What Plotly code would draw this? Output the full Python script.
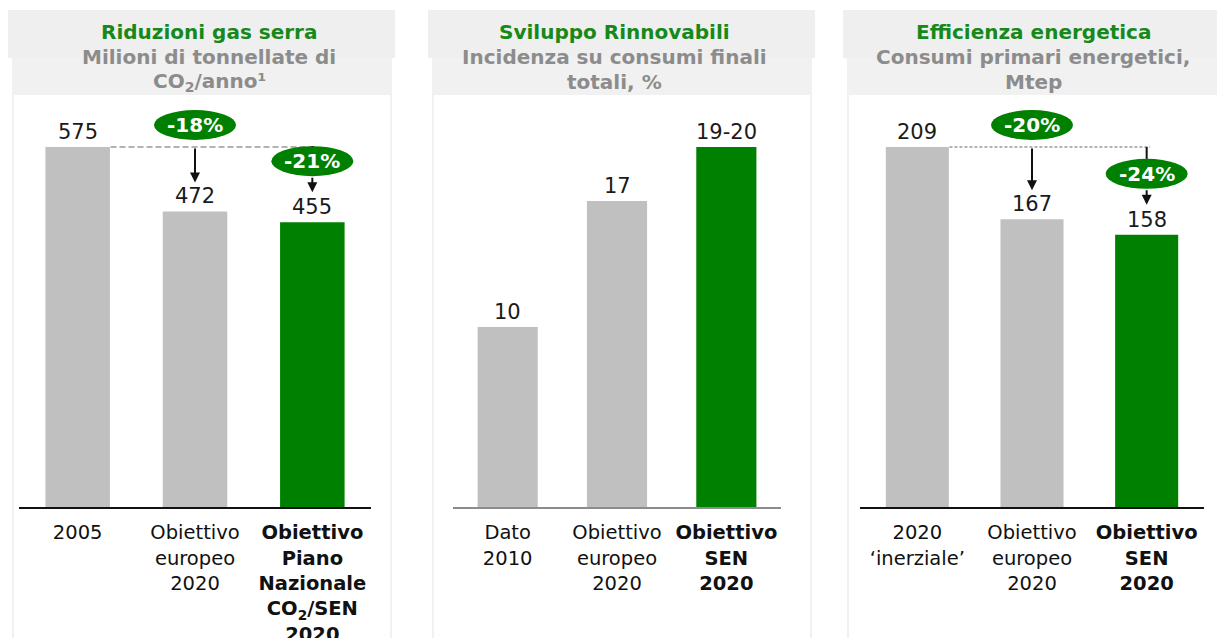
import plotly.graph_objects as go

WIDTH, HEIGHT = 1217, 638

# ---- data -----------------------------------------------------------------
co2_categories = ["2005", "Obiettivo europeo 2020", "Obiettivo Piano Nazionale CO2/SEN 2020"]
co2_ticks = [
    "2005",
    "Obiettivo<br>europeo<br>2020",
    "<b>Obiettivo<br>Piano<br>Nazionale<br>CO<sub>2</sub>/SEN<br>2020</b>",
]
co2_values = [575, 472, 455]
co2_labels = ["575", "472", "455"]
co2_badges = ["-18%", "-21%"]

ren_categories = ["Dato 2010", "Obiettivo europeo 2020", "Obiettivo SEN 2020"]
ren_ticks = ["Dato<br>2010", "Obiettivo<br>europeo<br>2020", "<b>Obiettivo<br>SEN<br>2020</b>"]
ren_values = [10, 17, 20]
ren_labels = ["10", "17", "19-20"]

eff_categories = ["2020 inerziale", "Obiettivo europeo 2020", "Obiettivo SEN 2020"]
eff_ticks = ["2020<br>‘inerziale’", "Obiettivo<br>europeo<br>2020", "<b>Obiettivo<br>SEN<br>2020</b>"]
eff_values = [209, 167, 158]
eff_labels = ["209", "167", "158"]
eff_badges = ["-20%", "-24%"]

titles = ["Riduzioni gas serra", "Sviluppo Rinnovabili", "Efficienza energetica"]
subtitles = [
    ["Milioni di tonnellate di", "CO<sub>2</sub>/anno¹"],
    ["Incidenza su consumi finali", "totali, %"],
    ["Consumi primari energetici,", "Mtep"],
]

# ---- style ----------------------------------------------------------------
FONT = "DejaVu Sans"
GREY = "#c0c0c0"
GREEN = "#008000"
TITLE_GREEN = "#15891a"
SUB_GREY = "#8c8c8c"
PLOT_TOP, PLOT_BOTTOM = 100, 507  # pixel rows of the plotting area
TITLE_ROWS = [32, 57, 82]

PANELS = [
    dict(box=(8, 395), plot=(19, 371), title_x=209, line="#111111", linewidth=2, dash="6px,3px",
         cats=co2_categories, ticks=co2_ticks, values=co2_values, labels=co2_labels, badges=co2_badges),
    dict(box=(428, 815), plot=(453, 781), title_x=614, line="#8c8c8c", linewidth=1.5, dash=None,
         cats=ren_categories, ticks=ren_ticks, values=ren_values, labels=ren_labels, badges=None),
    dict(box=(843, 1232), plot=(860, 1204), title_x=1033, line="#111111", linewidth=1.5, dash="3px,2px",
         cats=eff_categories, ticks=eff_ticks, values=eff_values, labels=eff_labels, badges=eff_badges),
]


def px_x(p):
    return p / WIDTH


def px_y(p):
    return 1 - p / HEIGHT


def paper_rect(x0, x1, y0, y1, color):
    return dict(type="rect", xref="paper", yref="paper", layer="below", line_width=0,
                fillcolor=color, x0=px_x(x0), x1=px_x(x1), y0=px_y(y1), y1=px_y(y0))


fig = go.Figure()
shapes = []
annotations = []
layout = {}

for idx, panel in enumerate(PANELS):
    suffix = "" if idx == 0 else str(idx + 1)
    xref, yref = "x" + suffix, "y" + suffix
    values = panel["values"]
    cats = panel["cats"]
    ymax = max(values) * (PLOT_BOTTOM - PLOT_TOP) / 360
    ppu = (PLOT_BOTTOM - PLOT_TOP) / ymax  # pixels per unit

    # panel background
    b0, b1 = panel["box"]
    shapes.append(paper_rect(b0, b1, 10, 58, "#efefef"))
    shapes.append(paper_rect(b0 + 4, b1 - 3, 58, 645, "#f1f1f1"))
    shapes.append(paper_rect(b0 + 6, b1 - 5, 95, 645, "#ffffff"))

    fig.add_trace(go.Bar(
        x=cats, y=values, xaxis=xref, yaxis=yref,
        marker=dict(color=[GREY, GREY, GREEN], line_width=0),
        hoverinfo="x+y", showlegend=False,
    ))

    layout["xaxis" + suffix] = dict(
        domain=[px_x(panel["plot"][0]), px_x(panel["plot"][1])],
        anchor=yref, type="category", range=[-0.5, 2.5], automargin=False,
        tickvals=cats, ticktext=panel["ticks"], ticks="", ticklabelstandoff=7,
        tickfont=dict(family=FONT, size=19.5, color="#111111"),
        showline=True, linecolor=panel["line"], linewidth=panel["linewidth"],
        showgrid=False, zeroline=False, fixedrange=True,
    )
    layout["yaxis" + suffix] = dict(
        domain=[px_y(PLOT_BOTTOM), px_y(PLOT_TOP)], anchor=xref, automargin=False,
        range=[0, ymax], visible=False, fixedrange=True,
    )

    # title block, one annotation per row
    rows = [f"<span style='color:{TITLE_GREEN}'>{titles[idx]}</span>"] + subtitles[idx]
    for row_y, row in zip(TITLE_ROWS, rows):
        annotations.append(dict(
            xref="paper", yref="paper", x=px_x(panel["title_x"]), y=px_y(row_y),
            xanchor="center", yanchor="middle", showarrow=False,
            text=f"<b>{row}</b>", font=dict(family=FONT, size=20, color=SUB_GREY),
        ))

    # value labels (category index positions)
    for i, (val, lab) in enumerate(zip(values, panel["labels"])):
        annotations.append(dict(
            xref=xref, yref=yref, x=i, y=val, yanchor="bottom", yshift=1,
            showarrow=False, text=lab, font=dict(family=FONT, size=21, color="#1a1a1a"),
        ))

    # reduction badges and arrows
    if panel["badges"]:
        level = values[0]
        shapes.append(dict(
            type="line", xref=xref, yref=yref, x0=0.28, x1=2.03, y0=level, y1=level,
            line=dict(color="#666666", width=1, dash=panel["dash"]),
        ))
        badge_pos = [
            (1, level, 7, 37),          # above the reference line
            (2, values[2], 46, 76),     # above the target bar
        ]
        for (i, anchor, lo, hi), txt in zip(badge_pos, panel["badges"]):
            shapes.append(dict(
                type="circle", xref=xref, yref=yref, xsizemode="pixel", ysizemode="pixel",
                xanchor=i, yanchor=anchor, x0=-41, x1=41, y0=lo, y1=hi,
                fillcolor=GREEN, line_width=0,
            ))
            annotations.append(dict(
                xref=xref, yref=yref, x=i, y=anchor + (lo + hi) / 2 / ppu,
                yanchor="middle", showarrow=False, text=f"<b>{txt}</b>",
                font=dict(family=FONT, size=20, color="white"),
            ))
        # long arrow from the reference line to the first target
        annotations.append(dict(
            xref=xref, yref=yref, axref=xref, ayref=yref,
            x=1, y=values[1] + 29 / ppu, ax=1, ay=level,
            text="", showarrow=True, arrowhead=2, arrowsize=1, arrowwidth=2, arrowcolor="#111111",
        ))
        # short arrow below the second badge
        annotations.append(dict(
            xref=xref, yref=yref, axref=xref, ayref=yref,
            x=2, y=values[2] + 30 / ppu, ax=2, ay=values[2] + 46 / ppu,
            text="", showarrow=True, arrowhead=2, arrowsize=1, arrowwidth=2, arrowcolor="#111111",
        ))
        # small tick from the reference line to the second badge
        shapes.append(dict(
            type="line", xref=xref, yref=yref, x0=2, x1=2,
            y0=level, y1=values[2] + 76 / ppu, line=dict(color="#111111", width=2),
        ))

fig.update_layout(
    width=WIDTH, height=HEIGHT,
    margin=dict(l=0, r=0, t=0, b=0, autoexpand=False),
    paper_bgcolor="white", plot_bgcolor="rgba(0,0,0,0)",
    bargap=0.45, showlegend=False,
    font=dict(family=FONT),
    shapes=shapes, annotations=annotations,
    **layout,
)

fig.write_html(
    "out.html",
    config={"displayModeBar": False},
    post_script="document.body.style.margin='0';document.body.style.overflow='hidden';",
)
